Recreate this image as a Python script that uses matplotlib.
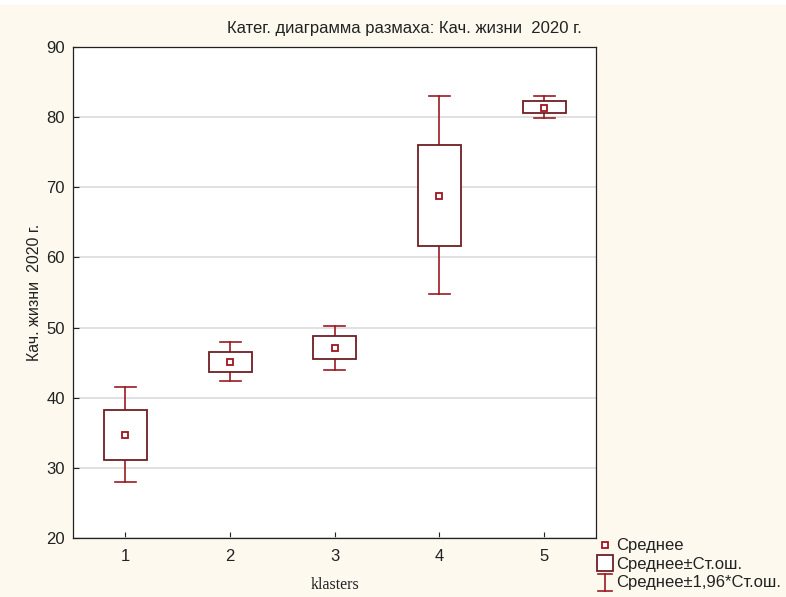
import matplotlib
matplotlib.use("Agg")
import matplotlib.pyplot as plt
from matplotlib.lines import Line2D
from matplotlib.patches import Rectangle
from matplotlib.legend_handler import HandlerBase

plt.rcParams['font.family'] = ['Liberation Sans', 'DejaVu Sans']

clusters = [1, 2, 3, 4, 5]
means = [34.7, 45.1, 47.1, 68.8, 81.3]
se_low = [31.1, 43.7, 45.5, 61.6, 80.6]
se_high = [38.25, 46.5, 48.8, 76.0, 82.3]
ci_low = [28.0, 42.4, 44.0, 54.8, 79.9]
ci_high = [41.5, 47.9, 50.2, 83.0, 83.0]

title = "Катег. диаграмма размаха: Кач. жизни  2020 г."
ylabel = "Кач. жизни  2020 г."
xlabel = "klasters"
legend_labels = ["Среднее", "Среднее±Ст.ош.", "Среднее±1,96*Ст.ош."]

box_color = "#6e1f24"
whisk_color = "#9b1b22"
mean_color = "#a0141e"
bg = "#fdf9ef"

fig = plt.figure(figsize=(7.86, 5.97), dpi=100, facecolor=bg)
fig.patches.append(Rectangle((0, 0.991), 1, 0.009, transform=fig.transFigure,
                             facecolor="white", edgecolor="none", zorder=0))
ax = fig.add_axes([0.0929, 0.0988, 0.6660, 0.8224])
ax.set_facecolor("white")

bw = 0.41
cw = 0.2
for x, m, sl, sh, cl, ch in zip(clusters, means, se_low, se_high, ci_low, ci_high):
    ax.plot([x, x], [sh, ch], color=whisk_color, lw=1.2, zorder=3)
    ax.plot([x, x], [cl, sl], color=whisk_color, lw=1.2, zorder=3)
    ax.plot([x - cw / 2, x + cw / 2], [ch, ch], color=whisk_color, lw=1.2, zorder=3)
    ax.plot([x - cw / 2, x + cw / 2], [cl, cl], color=whisk_color, lw=1.2, zorder=3)
    ax.add_patch(Rectangle((x - bw / 2, sl), bw, sh - sl, facecolor="white",
                           edgecolor=box_color, lw=1.3, zorder=4))
    ax.plot([x], [m], marker="s", ms=5, mfc="white", mec=mean_color, mew=1.3,
            linestyle="none", zorder=5)

ax.set_xlim(0.5, 5.5)
ax.set_ylim(20, 90)
ax.set_xticks(clusters)
ax.set_yticks(range(20, 91, 10))
ax.tick_params(direction="in", length=4, labelsize=12, colors="#222222",
               width=0.8)
ax.tick_params(axis="x", pad=8)
ax.tick_params(axis="y", pad=6)
ax.yaxis.grid(True, color="#dcdcdc", lw=1.2)
ax.set_axisbelow(True)
for s in ax.spines.values():
    s.set_color("#222222")
    s.set_linewidth(0.9)

fig.text(404 / 786, 1 - 28 / 597, title, fontsize=12, color="#222222",
         ha="center", va="center")
ax.set_ylabel(ylabel, fontsize=11.5, color="#222222", labelpad=3)
ax.set_xlabel(xlabel, fontsize=11.5, family=["Liberation Serif", "DejaVu Serif"],
              color="#222222", labelpad=9)


class HandlerI(HandlerBase):
    def create_artists(self, legend, orig_handle, xdescent, ydescent, width,
                       height, fontsize, trans):
        cx = width / 2 - xdescent
        top = height + 1 - ydescent
        bot = -3 - ydescent
        half = 5
        l1 = Line2D([cx, cx], [bot, top], color=whisk_color, lw=1.2)
        l2 = Line2D([cx - half, cx + half], [top, top], color=whisk_color, lw=1.2)
        l3 = Line2D([cx - half, cx + half], [bot, bot], color=whisk_color, lw=1.2)
        for l in (l1, l2, l3):
            l.set_transform(trans)
        return [l1, l2, l3]


class IHandle:
    pass


h1 = Line2D([], [], marker="s", ms=5, mfc="white", mec=mean_color, mew=1.3,
            linestyle="none")
h2 = Line2D([], [], marker="s", ms=11, mfc="white", mec=box_color, mew=1.3,
            linestyle="none")
h3 = IHandle()
leg = fig.legend([h1, h2, h3], legend_labels, loc="upper left",
                 bbox_to_anchor=(0.762, 0.098), frameon=False, fontsize=12,
                 handlelength=0.75, handletextpad=0.3, labelspacing=0.2,
                 borderaxespad=0, borderpad=0,
                 handler_map={IHandle: HandlerI()})
for t in leg.get_texts():
    t.set_color("#222222")

fig.savefig("out.png", dpi=100, facecolor=bg)
